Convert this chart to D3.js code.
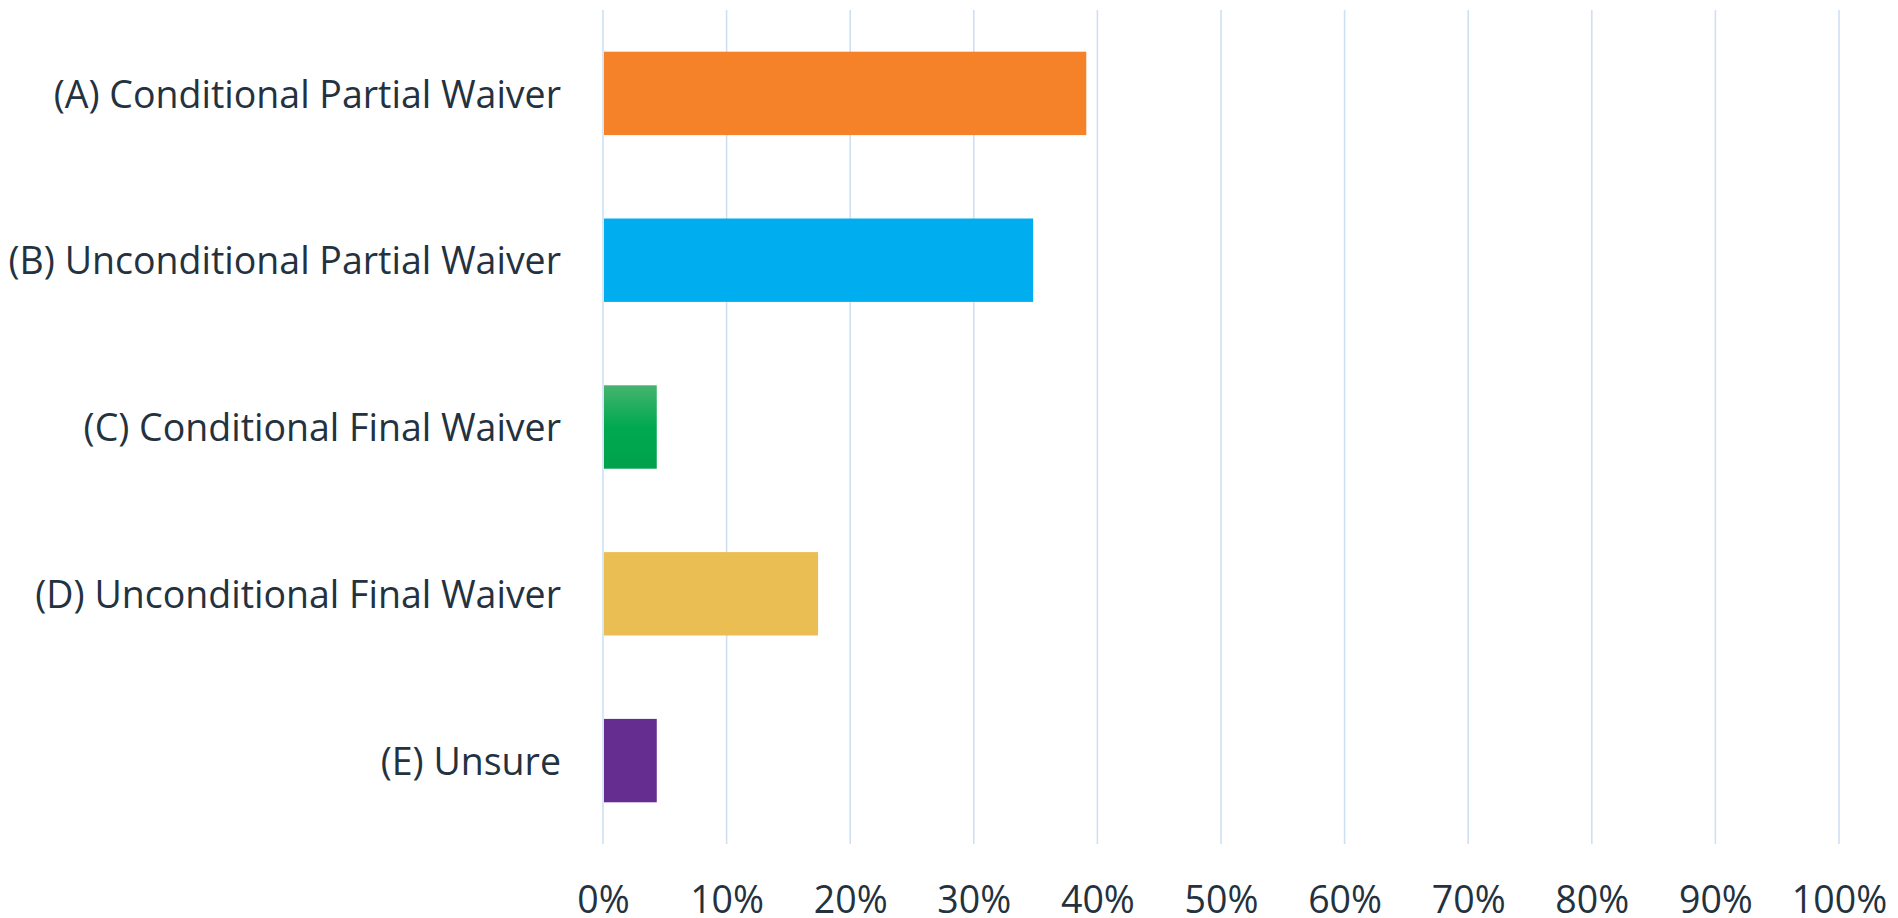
<!DOCTYPE html>
<html><head><meta charset="utf-8">
<script src="https://cdn.jsdelivr.net/npm/d3@7"></script>
<style>html,body{margin:0;padding:0;background:#fff;}svg{display:block;}</style>
</head><body>
<svg id="chart" width="1898" height="918"></svg>
<script>
const categories = ["(A) Conditional Partial Waiver","(B) Unconditional Partial Waiver","(C) Conditional Final Waiver","(D) Unconditional Final Waiver","(E) Unsure"];
const values = [39.1, 34.8, 4.35, 17.4, 4.35];
const colors = ["#F58229","#00AEEF","url(#greenGrad)","#EBBE53","#662D91"];
const tickValues = [0,10,20,30,40,50,60,70,80,90,100];

const svg = d3.select("#chart");
const defs = svg.append("defs");
const g = defs.append("linearGradient").attr("id","greenGrad").attr("x1",0).attr("y1",0).attr("x2",0).attr("y2",1);
g.append("stop").attr("offset","0%").attr("stop-color","#45B46E");
g.append("stop").attr("offset","50%").attr("stop-color","#00A94F");
g.append("stop").attr("offset","100%").attr("stop-color","#00A24C");

const x = d3.scaleLinear().domain([0,100]).range([603,1839]);
const y = d3.scaleBand().domain(categories).range([10,844]).paddingInner(0.5).paddingOuter(0.25);

// gridlines
svg.append("g").selectAll("line").data(tickValues).join("line")
  .attr("x1",d=>x(d)).attr("x2",d=>x(d)).attr("y1",10).attr("y2",844)
  .attr("stroke","#cfe0f3").attr("stroke-width",1.6);

// bars
svg.append("g").selectAll("rect").data(values).join("rect")
  .attr("x",x(0)+1).attr("y",(d,i)=>y(categories[i]))
  .attr("width",d=>x(d)-x(0)-1).attr("height",y.bandwidth())
  .attr("fill",(d,i)=>colors[i]);

const font = "'Open Sans', sans-serif";
// x axis
const xAxis = d3.axisBottom(x).tickValues(tickValues).tickFormat(d=>d+"%").tickSize(0).tickPadding(0);
const xg = svg.append("g").attr("transform","translate(0,913)").call(xAxis);
xg.select(".domain").remove();
xg.selectAll("text").attr("font-family",font).attr("font-size",37.5).attr("fill","#24323f").attr("y",0).attr("dy","0");

// y axis
const yAxis = d3.axisLeft(y).tickSize(0).tickPadding(42);
const yg = svg.append("g").attr("transform",`translate(${x(0)},0)`).call(yAxis);
yg.select(".domain").remove();
yg.selectAll("text").attr("font-family",font).attr("font-size",37.5).attr("fill","#24323f").attr("dy","0.38em");
</script>
</body></html>
